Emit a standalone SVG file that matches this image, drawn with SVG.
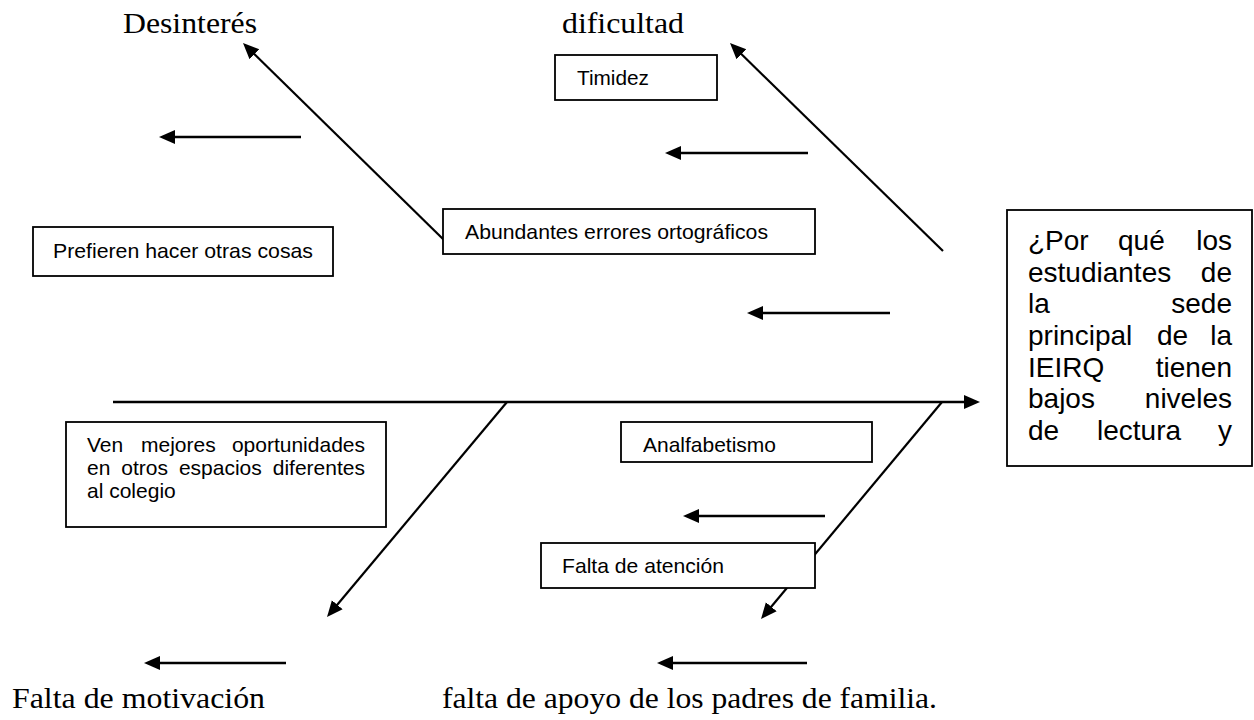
<svg xmlns="http://www.w3.org/2000/svg" width="1254" height="720" viewBox="0 0 1254 720">
<style>
.box{fill:#fff;stroke:#000;stroke-width:1.8}
.t{font-family:"Liberation Sans",Arial,sans-serif;font-size:21px;fill:#000}
.c{font-family:"Liberation Sans",Arial,sans-serif;font-size:28px;fill:#000}
.s{font-family:"Liberation Serif","Times New Roman",serif;font-size:30px;fill:#000}
.h{stroke:#000;stroke-width:2.5;fill:none}
.d{stroke:#000;stroke-width:2.2;fill:none}
</style>
<defs>
<marker id="ah" markerUnits="userSpaceOnUse" markerWidth="18" markerHeight="16" viewBox="0 -8 18 16" refX="2" refY="0" orient="auto">
<path d="M0,-7 L16,0 L0,7 z" fill="#000"/>
</marker>
</defs>
<rect width="1254" height="720" fill="#fff"/>
<g id="labels">
<text class="s" x="123" y="33" textLength="134" lengthAdjust="spacingAndGlyphs">Desinterés</text>
<text class="s" x="562" y="33" textLength="122" lengthAdjust="spacingAndGlyphs">dificultad</text>
<text class="s" x="12" y="708" textLength="253" lengthAdjust="spacingAndGlyphs">Falta de motivación</text>
<text class="s" x="442" y="708" textLength="495" lengthAdjust="spacingAndGlyphs">falta de apoyo de los padres de familia.</text>
</g>
<g id="connectors">
<line class="h" x1="113" y1="402" x2="966" y2="402" marker-end="url(#ah)"/>
<line class="h" x1="301" y1="137" x2="173" y2="137" marker-end="url(#ah)"/>
<line class="h" x1="808" y1="153" x2="679" y2="153" marker-end="url(#ah)"/>
<line class="h" x1="890" y1="313" x2="761" y2="313" marker-end="url(#ah)"/>
<line class="h" x1="825" y1="516" x2="697" y2="516" marker-end="url(#ah)"/>
<line class="h" x1="807" y1="663" x2="671" y2="663" marker-end="url(#ah)"/>
<line class="h" x1="286" y1="663" x2="158" y2="663" marker-end="url(#ah)"/>
<line class="d" x1="444" y1="240" x2="253" y2="52.8" marker-end="url(#ah)"/>
<line class="d" x1="943" y1="251" x2="740" y2="52.8" marker-end="url(#ah)"/>
<line class="d" x1="507" y1="402" x2="336" y2="606.3" marker-end="url(#ah)"/>
<line class="d" x1="942" y1="402" x2="770" y2="608.2" marker-end="url(#ah)"/>
</g>
<g id="timidez">
<rect class="box" x="555" y="55" width="162" height="45"/>
<text class="t" x="577" y="85" textLength="72" lengthAdjust="spacingAndGlyphs">Timidez</text>
</g>
<g id="abundantes">
<rect class="box" x="443" y="209" width="372" height="45"/>
<text class="t" x="465" y="239" textLength="303" lengthAdjust="spacingAndGlyphs">Abundantes errores ortográficos</text>
</g>
<g id="prefieren">
<rect class="box" x="33" y="227" width="300" height="49"/>
<text class="t" x="53" y="258" textLength="260" lengthAdjust="spacingAndGlyphs">Prefieren hacer otras cosas</text>
</g>
<g id="ven">
<rect class="box" x="66" y="422" width="320" height="105"/>
<text class="t" x="87" y="452">Ven</text>
<text class="t" x="141" y="452">mejores</text>
<text class="t" x="365" y="452" text-anchor="end">oportunidades</text>
<text class="t" x="87" y="475">en</text>
<text class="t" x="121.3" y="475">otros</text>
<text class="t" x="178.9" y="475">espacios</text>
<text class="t" x="365" y="475" text-anchor="end">diferentes</text>
<text class="t" x="87" y="498">al colegio</text>
</g>
<g id="analfabetismo">
<rect class="box" x="621" y="422" width="251" height="40"/>
<text class="t" x="643" y="452" textLength="133" lengthAdjust="spacingAndGlyphs">Analfabetismo</text>
</g>
<g id="atencion">
<rect class="box" x="541" y="543" width="274" height="45"/>
<text class="t" x="562" y="573" textLength="162" lengthAdjust="spacingAndGlyphs">Falta de atención</text>
</g>
<g id="problema">
<rect class="box" x="1007" y="210" width="245" height="256"/>
<text class="c" x="1028" y="250">¿Por</text>
<text class="c" x="1118" y="250">qué</text>
<text class="c" x="1232" y="250" text-anchor="end">los</text>
<text class="c" x="1028" y="281.7">estudiantes</text>
<text class="c" x="1232" y="281.7" text-anchor="end">de</text>
<text class="c" x="1028" y="313.3">la</text>
<text class="c" x="1232" y="313.3" text-anchor="end">sede</text>
<text class="c" x="1028" y="345">principal</text>
<text class="c" x="1157" y="345">de</text>
<text class="c" x="1232" y="345" text-anchor="end">la</text>
<text class="c" x="1028" y="376.7">IEIRQ</text>
<text class="c" x="1232" y="376.7" text-anchor="end">tienen</text>
<text class="c" x="1028" y="408.3">bajos</text>
<text class="c" x="1232" y="408.3" text-anchor="end">niveles</text>
<text class="c" x="1028" y="440">de</text>
<text class="c" x="1097" y="440">lectura</text>
<text class="c" x="1232" y="440" text-anchor="end">y</text>
</g>
</svg>
